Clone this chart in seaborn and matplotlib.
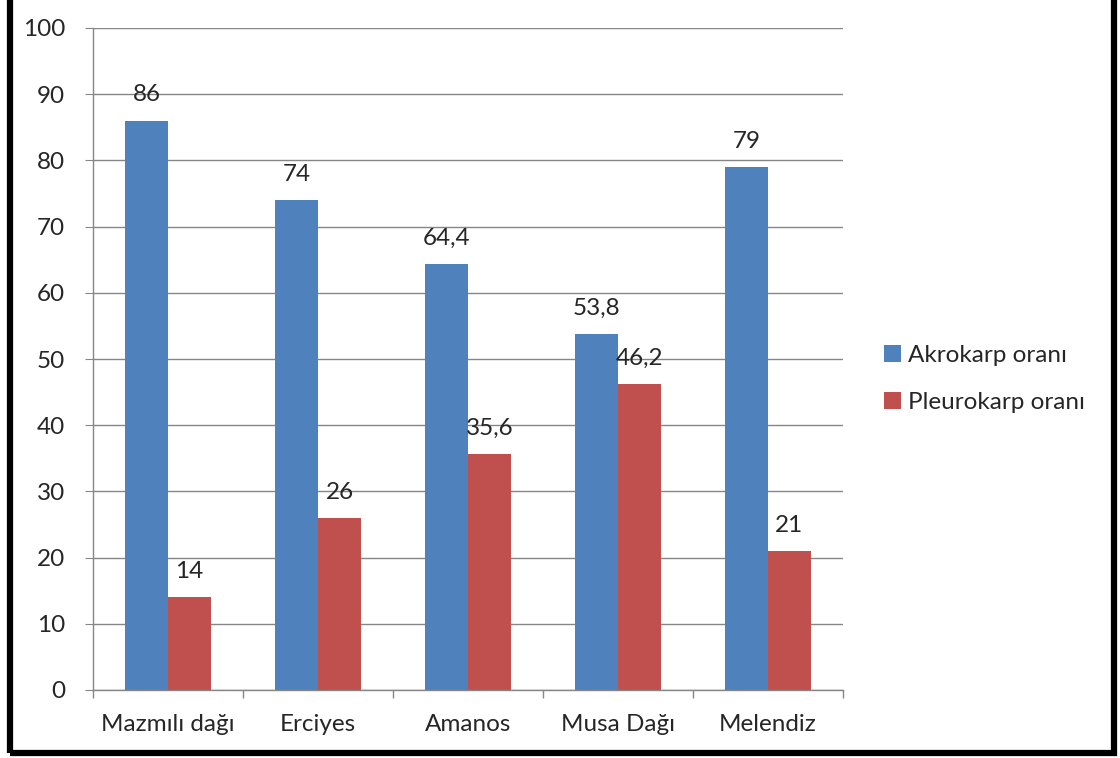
import matplotlib
matplotlib.use("Agg")
import matplotlib.pyplot as plt
import seaborn as sns
import pandas as pd
from matplotlib.patches import Rectangle

categories = ["Mazmılı dağı", "Erciyes", "Amanos", "Musa Dağı", "Melendiz"]
akrokarp = [86, 74, 64.4, 53.8, 79]
pleurokarp = [14, 26, 35.6, 46.2, 21]
series_names = ["Akrokarp oranı", "Pleurokarp oranı"]
colors = ["#4F81BD", "#C0504D"]
yticks = list(range(0, 101, 10))

df = pd.DataFrame({
    "cat": categories * 2,
    "val": akrokarp + pleurokarp,
    "series": [series_names[0]] * 5 + [series_names[1]] * 5,
})

sns.set_style("white")
plt.rcParams["font.family"] = ["Lato", "DejaVu Sans"]
FS = 17.5

fig = plt.figure(figsize=(11.2, 7.58), dpi=100)
ax = fig.add_axes([93 / 1120, 1 - 690 / 758, 750 / 1120, 662 / 758])

sns.barplot(data=df, x="cat", y="val", hue="series", palette=colors,
            width=0.573, gap=0, ax=ax, saturation=1, legend=True, linewidth=0)

ax.set_ylim(0, 100)
ax.set_xlim(-0.5, 4.5)
ax.set_yticks(yticks)
ax.set_yticklabels([str(v) for v in yticks])
ax.yaxis.grid(True, color="#868686", linewidth=1)
ax.set_axisbelow(True)
ax.set_xlabel("")
ax.set_ylabel("")
for s in ["top", "right"]:
    ax.spines[s].set_visible(False)
for s in ["left", "bottom"]:
    ax.spines[s].set_color("#868686")
    ax.spines[s].set_linewidth(1)

ax.tick_params(axis="y", left=True, length=6, color="#868686", labelsize=FS, pad=14)
ax.set_xticks([i for i in range(5)])
ax.set_xticklabels(categories)
ax.tick_params(axis="x", bottom=False, labelsize=FS, pad=14)
ax.set_xticks([i - 0.5 for i in range(6)], minor=True)
ax.tick_params(axis="x", which="minor", bottom=True, length=6, color="#868686", width=1)

def fmt(v):
    s = f"{v:g}"
    return s.replace(".", ",")

for cont in ax.containers:
    ax.bar_label(cont, labels=[fmt(b.get_height()) for b in cont], padding=11, fontsize=FS)

leg = ax.legend(loc="center left", bbox_to_anchor=((862 - 93) / 750, 0.47), frameon=False,
                fontsize=FS, handlelength=0.7, handleheight=0.7, handletextpad=0.3,
                labelspacing=1.05)

fig.patches.append(Rectangle((10 / 1120, 5 / 758), 1104 / 1120, 1 - 5 / 758 + 0.01,
                             transform=fig.transFigure, fill=False,
                             edgecolor="black", linewidth=4.5))

fig.savefig("out.png", dpi=100)
